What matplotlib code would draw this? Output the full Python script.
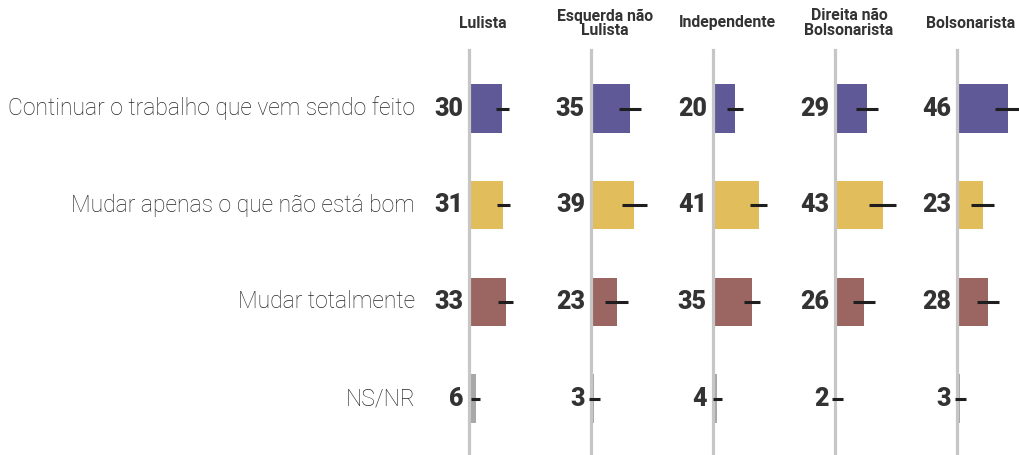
import matplotlib
matplotlib.use("Agg")
import matplotlib.pyplot as plt

# dados
groups = ["Lulista", "Esquerda não\nLulista", "Independente", "Direita não\nBolsonarista", "Bolsonarista"]
answers = ["Continuar o trabalho que vem sendo feito", "Mudar apenas o que não está bom",
           "Mudar totalmente", "NS/NR"]
values = {
    "Lulista": [30, 31, 33, 6],
    "Esquerda não\nLulista": [35, 39, 23, 3],
    "Independente": [20, 41, 35, 4],
    "Direita não\nBolsonarista": [29, 43, 26, 2],
    "Bolsonarista": [46, 23, 28, 3],
}
# margem de erro (meia largura)
errors = {
    "Lulista": [6, 6, 7, 4],
    "Esquerda não\nLulista": [10, 11, 10, 5],
    "Independente": [7, 8, 7, 4],
    "Direita não\nBolsonarista": [10, 12, 10, 5],
    "Bolsonarista": [12, 10, 10, 5],
}
colors = ["#5f5a97", "#e2bd5c", "#9b6562", "#a8a8a8"]

W, H = 1019, 455
fig = plt.figure(figsize=(W / 100, H / 100), dpi=100)
plt.rcParams["font.family"] = ["Roboto", "DejaVu Sans"]

px_per_unit = 1.11
panel_left = 469
panel_step = 122
panel_w = 62
top, bottom = 50, 455
row0, row_step = 108.5, 96.7

ylim_top = -(row0 - top) / row_step
ylim_bot = (bottom - row0) / row_step

txt = "#333333"
axes = []
for g, grp in enumerate(groups):
    left = panel_left + g * panel_step
    ax = fig.add_axes([left / W, 0, panel_w / W, (bottom - top) / H])
    ax.set_xlim(0, panel_w / px_per_unit)
    ax.set_ylim(ylim_bot, ylim_top)
    ax.axis("off")
    ys = list(range(len(answers)))
    ax.barh(ys, values[grp], height=0.5, color=colors, zorder=2)
    ax.axvline(0, color="#c6c6c6", lw=2.3, zorder=3, clip_on=False)
    ax.errorbar(values[grp], ys, xerr=errors[grp], fmt="none", ecolor="#1e1e1e",
                elinewidth=2.2, capsize=0, zorder=4, clip_on=False)
    for y, v in zip(ys, values[grp]):
        ax.annotate(str(v), (0, y), xytext=(-6, 0), textcoords="offset pixels",
                    ha="right", va="center", fontsize=18, fontweight="heavy",
                    color=txt, annotation_clip=False)
    fig.text((left + 14) / W, 1 - 23 / H, grp, ha="center", va="center",
             fontsize=11.3, fontweight="bold", color=txt, linespacing=0.92)
    axes.append(ax)

for y, a in enumerate(answers):
    axes[0].annotate(a, (0, y), xytext=(-54, 0), textcoords="offset pixels",
                     ha="right", va="center", fontsize=16.5, fontweight="light",
                     color="#262626", annotation_clip=False)

fig.savefig("out.png", dpi=100)
